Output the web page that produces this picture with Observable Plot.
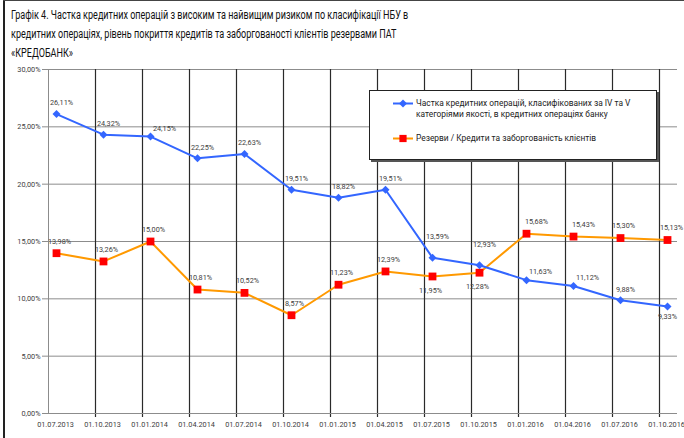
<!DOCTYPE html>
<html>
<head>
<meta charset="utf-8">
<script src="https://cdn.jsdelivr.net/npm/d3@7"></script>
<script src="https://cdn.jsdelivr.net/npm/@observablehq/plot@0.6"></script>
<style>
  html, body { margin: 0; padding: 0; background: #fff; }
  #wrap { position: relative; width: 684px; height: 438px; overflow: hidden; background: #fff; }
  #title { height: 60px; box-sizing: border-box; padding: 6px 0 0 11px; font-family: Roboto, sans-serif; font-size: 12px; line-height: 19px; color: #111; white-space: nowrap; }
  #title div { transform: scaleX(0.755); transform-origin: 0 0; }
  #frameL { position: absolute; left: 3px; top: 0; width: 2px; height: 438px; background: #222; }
  #frameT { position: absolute; left: 3px; top: 0; width: 681px; height: 1px; background: #444; }
  #legend { position: absolute; left: 369px; top: 90px; width: 288px; height: 70px; box-sizing: border-box; background: #fff; border: 1px solid #222; box-shadow: 2px 2px 0 #555; font-family: Roboto, sans-serif; font-size: 8.4px; color: #222; }
  #legend svg { position: absolute; left: 0; top: 0; }
  .lt { position: absolute; left: 46px; line-height: 10.5px; white-space: nowrap; }
</style>
</head>
<body>
<div id="wrap">
  <div id="title"></div>
  <div id="chart"></div>
  <div id="legend"></div>
  <div id="frameL"></div>
  <div id="frameT"></div>
</div>
<script>
// ---- data ----
const titleLines = [
  "Графік 4. Частка кредитних операцій з високим та найвищим ризиком по класифікації НБУ в",
  "кредитних операціях, рівень покриття кредитів та заборгованості клієнтів резервами ПАТ",
  "«КРЕДОБАНК»"
];
const dates = ["01.07.2013","01.10.2013","01.01.2014","01.04.2014","01.07.2014","01.10.2014","01.01.2015",
               "01.04.2015","01.07.2015","01.10.2015","01.01.2016","01.04.2016","01.07.2016","01.10.2016"];
const shareIVV = [26.11, 24.32, 24.15, 22.25, 22.63, 19.51, 18.82, 19.51, 13.59, 12.93, 11.63, 11.12, 9.88, 9.33];
const reserves = [13.98, 13.26, 15.00, 10.81, 10.52, 8.57, 11.23, 12.39, 11.95, 12.28, 15.68, 15.43, 15.30, 15.13];
const yTicks = [0, 5, 10, 15, 20, 25, 30];
const seriesNames = [
  ["Частка кредитних операцій, класифікованих за  IV та V", "категоріями якості, в кредитних операціях банку"],
  ["Резерви / Кредити та заборгованість клієнтів"]
];

// ---- build ----
document.getElementById("title").innerHTML = titleLines.map(t => `<div>${t}</div>`).join("");

const blue = "#3366FF", orange = "#FF9900", red = "#FF0000";
const pct = v => v.toFixed(2).replace(".", ",") + "%";
const rowsB = dates.map((d, i) => ({date: d, v: shareIVV[i]}));
const rowsO = dates.map((d, i) => ({date: d, v: reserves[i]}));

// label placement classes
const bRight = new Set(["01.01.2014", "01.01.2016", "01.04.2016"]);
const bHigh = new Set(["01.07.2015", "01.10.2015"]);
const bBelow = new Set(["01.10.2016"]);
const oBelow = new Set(["01.07.2015", "01.10.2015"]);
const oRight = new Set(["01.01.2016", "01.04.2016"]);
const oEdge = new Set(["01.10.2016"]);
const isPlain = (...sets) => r => !sets.some(s => s.has(r.date));

const lab = {x: "date", y: "v", text: d => pct(d.v), fill: "#404040", fontSize: 7.3};

const chart = Plot.plot({
  width: 684, height: 378,
  marginTop: 9, marginBottom: 25, marginLeft: 46, marginRight: 7,
  x: {type: "point", domain: dates, range: [54, 668], padding: 0},
  y: {domain: [0, 30]},
  style: {fontFamily: "Roboto, sans-serif", fontSize: "7.3px", color: "#404040", background: "transparent"},
  marks: [
    Plot.ruleY(yTicks.slice(1), {stroke: "#8c8c8c", strokeWidth: 1}),
    Plot.ruleX(dates.slice(1), {x: d => d, dx: -8, stroke: "#2a2a2a", strokeWidth: 1.2, insetBottom: -4}),
    Plot.ruleX([dates[0]], {x: d => d, dx: -8, stroke: "#8c8c8c"}),
    Plot.ruleY([0], {stroke: "#8c8c8c"}),
    Plot.axisY({ticks: yTicks, tickFormat: pct, tickSize: 4, tickPadding: 2, label: null, stroke: "#8c8c8c", fill: "#404040"}),
    Plot.axisX({tickSize: 0, tickPadding: 8, label: null, fill: "#404040", dx: -1}),
    Plot.line(rowsO, {x: "date", y: "v", stroke: orange, strokeWidth: 2}),
    Plot.line(rowsB, {x: "date", y: "v", stroke: blue, strokeWidth: 2}),
    Plot.dot(rowsO, {x: "date", y: "v", symbol: "square", r: 4.4, fill: red, stroke: null}),
    Plot.dot(rowsB, {x: "date", y: "v", symbol: "diamond2", r: 3.6, fill: blue, stroke: null}),
    // blue labels
    Plot.text(rowsB, {...lab, filter: isPlain(bRight, bHigh, bBelow), dx: 5, dy: -11}),
    Plot.text(rowsB, {...lab, filter: r => bRight.has(r.date), dx: 14, dy: -8}),
    Plot.text(rowsB, {...lab, filter: r => bHigh.has(r.date), dx: 5, dy: -21}),
    Plot.text(rowsB, {...lab, filter: r => bBelow.has(r.date), dx: 0, dy: 10}),
    // orange labels
    Plot.text(rowsO, {...lab, filter: isPlain(oBelow, oRight, oEdge), dx: 3, dy: -12}),
    Plot.text(rowsO, {...lab, filter: r => oBelow.has(r.date), dx: -2, dy: 14}),
    Plot.text(rowsO, {...lab, filter: r => oRight.has(r.date), dx: 10, dy: -12}),
    Plot.text(rowsO, {...lab, filter: r => oEdge.has(r.date), dx: 4, dy: -12})
  ]
});
document.getElementById("chart").appendChild(chart);

// ---- legend ----
const legend = document.getElementById("legend");
const ls = d3.create("svg").attr("width", 60).attr("height", 68);
const sym = (type, size) => d3.symbol().type(type).size(size)();
ls.append("line").attr("x1", 23).attr("x2", 43).attr("y1", 12.5).attr("y2", 12.5).attr("stroke", blue).attr("stroke-width", 2);
ls.append("path").attr("d", sym(d3.symbolDiamond2, 40)).attr("transform", "translate(33,12.5)").attr("fill", blue);
ls.append("line").attr("x1", 23).attr("x2", 43).attr("y1", 47.5).attr("y2", 47.5).attr("stroke", orange).attr("stroke-width", 2);
ls.append("path").attr("d", sym(d3.symbolSquare, 52)).attr("transform", "translate(33,47.5)").attr("fill", red);
legend.appendChild(ls.node());
const t1 = document.createElement("div");
t1.className = "lt"; t1.style.top = "7px"; t1.innerHTML = seriesNames[0].join("<br>");
legend.appendChild(t1);
const t2 = document.createElement("div");
t2.className = "lt"; t2.style.top = "42px"; t2.innerHTML = seriesNames[1].join("<br>");
legend.appendChild(t2);
</script>
</body>
</html>
